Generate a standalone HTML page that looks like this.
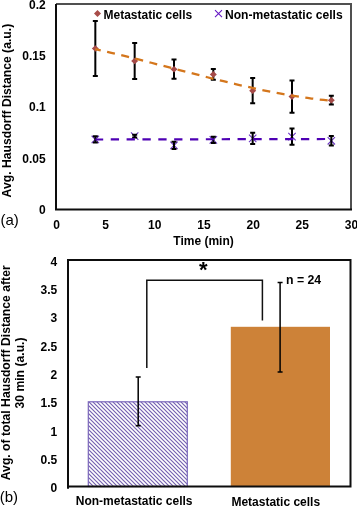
<!DOCTYPE html><html><head><meta charset="utf-8"><style>
html,body{margin:0;padding:0;background:#fff;width:357px;height:506px;overflow:hidden}
svg{display:block;will-change:transform}
text{font-family:"Liberation Sans",sans-serif;font-weight:bold;font-size:12px;fill:#000}
</style></head><body>
<svg width="357" height="506" viewBox="0 0 357 506">
<defs>
<pattern id="hatch" patternUnits="userSpaceOnUse" width="4" height="4" patternTransform="translate(88,401)">
<rect width="4" height="4" fill="#fff"/>
<path d="M-1,-1 L5,5 M-1,3 L1,5 M3,-1 L5,1" stroke="#7560b0" stroke-width="1.15"/>
</pattern>
</defs>

<path d="M56,4 H351 V209.4" fill="none" stroke="#505050" stroke-width="2"/>
<path d="M56,4 V209.4 H352" fill="none" stroke="#0d0d0d" stroke-width="2"/>
<text x="45.7" y="8.9" text-anchor="end">0.2</text>
<text x="45.7" y="60.1" text-anchor="end">0.15</text>
<text x="45.7" y="111.4" text-anchor="end">0.1</text>
<text x="45.7" y="162.7" text-anchor="end">0.05</text>
<text x="45.7" y="213.9" text-anchor="end">0</text>
<text x="56.5" y="229.3" text-anchor="middle">0</text>
<text x="105.7" y="229.3" text-anchor="middle">5</text>
<text x="154.8" y="229.3" text-anchor="middle">10</text>
<text x="204.0" y="229.3" text-anchor="middle">15</text>
<text x="253.2" y="229.3" text-anchor="middle">20</text>
<text x="302.3" y="229.3" text-anchor="middle">25</text>
<text x="351.5" y="229.3" text-anchor="middle">30</text>
<text x="203.5" y="244.5" text-anchor="middle">Time (min)</text>
<text x="0.5" y="224.5" style="font-weight:normal;font-size:15px">(a)</text>
<text transform="translate(10.9,110.6) rotate(-90)" text-anchor="middle" style="font-size:12.2px">Avg. Hausdorff Distance (a.u.)</text>
<path d="M97.5,10 L101,13.5 L97.5,17 L94,13.5 Z" fill="#a84c48"/>
<text x="103.5" y="18.5">Metastatic cells</text>
<path d="M215,10.2 L222,17.2 M222,10.2 L215,17.2" stroke="#6418c4" stroke-width="1.1"/>
<text x="225" y="18.5" style="font-size:12.1px">Non-metastatic cells</text>
<path d="M91.63,135.75 L99.03,143.15 M99.03,135.75 L91.63,143.15" stroke="#6c38c4" stroke-width="1.1"/>
<path d="M130.97,132.40 L138.37,139.80 M138.37,132.40 L130.97,139.80" stroke="#6c38c4" stroke-width="1.1"/>
<path d="M170.30,141.65 L177.70,149.05 M177.70,141.65 L170.30,149.05" stroke="#6c38c4" stroke-width="1.1"/>
<path d="M209.63,136.20 L217.03,143.60 M217.03,136.20 L209.63,143.60" stroke="#6c38c4" stroke-width="1.1"/>
<path d="M248.97,134.65 L256.37,142.05 M256.37,134.65 L248.97,142.05" stroke="#6c38c4" stroke-width="1.1"/>
<path d="M288.30,132.90 L295.70,140.30 M295.70,132.90 L288.30,140.30" stroke="#6c38c4" stroke-width="1.1"/>
<path d="M327.63,137.10 L335.03,144.50 M335.03,137.10 L327.63,144.50" stroke="#6c38c4" stroke-width="1.1"/>
<path d="M95.33,136.30 V142.60 M92.83,136.30 H97.83 M92.83,142.60 H97.83" stroke="#000" stroke-width="2" fill="none"/>
<path d="M134.67,134.70 V137.50 M132.17,134.70 H137.17 M132.17,137.50 H137.17" stroke="#000" stroke-width="2" fill="none"/>
<path d="M174.00,141.80 V148.90 M171.50,141.80 H176.50 M171.50,148.90 H176.50" stroke="#000" stroke-width="2" fill="none"/>
<path d="M213.33,136.80 V143.00 M210.83,136.80 H215.83 M210.83,143.00 H215.83" stroke="#000" stroke-width="2" fill="none"/>
<path d="M252.67,132.70 V144.00 M250.17,132.70 H255.17 M250.17,144.00 H255.17" stroke="#000" stroke-width="2" fill="none"/>
<path d="M292.00,128.40 V144.80 M289.50,128.40 H294.50 M289.50,144.80 H294.50" stroke="#000" stroke-width="2" fill="none"/>
<path d="M331.33,136.00 V145.60 M328.83,136.00 H333.83 M328.83,145.60 H333.83" stroke="#000" stroke-width="2" fill="none"/>
<path d="M95.33,20.90 V76.00 M92.83,20.90 H97.83 M92.83,76.00 H97.83" stroke="#000" stroke-width="2" fill="none"/>
<path d="M134.67,43.00 V78.90 M132.17,43.00 H137.17 M132.17,78.90 H137.17" stroke="#000" stroke-width="2" fill="none"/>
<path d="M174.00,59.60 V78.80 M171.50,59.60 H176.50 M171.50,78.80 H176.50" stroke="#000" stroke-width="2" fill="none"/>
<path d="M213.33,69.00 V79.80 M210.83,69.00 H215.83 M210.83,79.80 H215.83" stroke="#000" stroke-width="2" fill="none"/>
<path d="M252.67,78.00 V103.30 M250.17,78.00 H255.17 M250.17,103.30 H255.17" stroke="#000" stroke-width="2" fill="none"/>
<path d="M292.00,80.40 V112.80 M289.50,80.40 H294.50 M289.50,112.80 H294.50" stroke="#000" stroke-width="2" fill="none"/>
<path d="M331.33,95.80 V104.60 M328.83,95.80 H333.83 M328.83,104.60 H333.83" stroke="#000" stroke-width="2" fill="none"/>
<path d="M95.33,45.15 L98.83,48.45 L95.33,51.75 L91.83,48.45 Z" fill="#a54a48"/>
<path d="M134.67,57.65 L138.17,60.95 L134.67,64.25 L131.17,60.95 Z" fill="#a54a48"/>
<path d="M174.00,65.90 L177.50,69.20 L174.00,72.50 L170.50,69.20 Z" fill="#a54a48"/>
<path d="M213.33,71.10 L216.83,74.40 L213.33,77.70 L209.83,74.40 Z" fill="#a54a48"/>
<path d="M252.67,87.35 L256.17,90.65 L252.67,93.95 L249.17,90.65 Z" fill="#a54a48"/>
<path d="M292.00,93.30 L295.50,96.60 L292.00,99.90 L288.50,96.60 Z" fill="#a54a48"/>
<path d="M331.33,96.90 L334.83,100.20 L331.33,103.50 L327.83,100.20 Z" fill="#a54a48"/>
<path d="M95.30,49.14 L99.31,50.04 L103.31,50.95 L107.32,51.87 L111.32,52.81 L115.33,53.76 L119.33,54.72 L123.34,55.70 L127.34,56.68 L131.35,57.68 L135.35,58.68 L139.36,59.69 L143.36,60.71 L147.37,61.73 L151.37,62.76 L155.38,63.80 L159.38,64.83 L163.39,65.87 L167.39,66.92 L171.40,67.96 L175.40,69.00 L179.41,70.04 L183.41,71.08 L187.42,72.12 L191.42,73.16 L195.43,74.19 L199.43,75.21 L203.44,76.24 L207.44,77.25 L211.45,78.26 L215.45,79.25 L219.46,80.24 L223.46,81.22 L227.47,82.19 L231.47,83.15 L235.48,84.09 L239.48,85.02 L243.49,85.94 L247.49,86.84 L251.50,87.72 L255.50,88.59 L259.51,89.44 L263.51,90.28 L267.52,91.09 L271.52,91.88 L275.53,92.65 L279.53,93.40 L283.54,94.13 L287.54,94.84 L291.55,95.52 L295.55,96.17 L299.56,96.80 L303.56,97.40 L307.57,97.97 L311.57,98.52 L315.58,99.03 L319.58,99.52 L323.59,99.97 L327.59,100.40 L331.60,100.78" fill="none" stroke="#d4761c" stroke-width="2.3" stroke-dasharray="8 6.54" stroke-dashoffset="2.45"/>
<path d="M95.3,139.5 L331.3,139.0" fill="none" stroke="#4e00b4" stroke-width="2.2" stroke-dasharray="8.3 7.55" stroke-dashoffset="0.4"/>
<rect x="88.3" y="401.8" width="99" height="84.69999999999999" fill="url(#hatch)" stroke="#7a66bb" stroke-width="1.2"/>
<rect x="230.8" y="326.8" width="99.2" height="159.7" fill="#cd8238"/>
<rect x="68" y="260" width="282.5" height="226.5" fill="none" stroke="#0d0d0d" stroke-width="2"/>
<path d="M68,486 V488.7" stroke="#0d0d0d" stroke-width="2"/>
<text x="57.2" y="492.1" text-anchor="end">0</text>
<text x="57.2" y="463.8" text-anchor="end">0.5</text>
<text x="57.2" y="435.5" text-anchor="end">1</text>
<text x="57.2" y="407.2" text-anchor="end">1.5</text>
<text x="57.2" y="378.9" text-anchor="end">2</text>
<text x="57.2" y="350.5" text-anchor="end">2.5</text>
<text x="57.2" y="322.2" text-anchor="end">3</text>
<text x="57.2" y="293.9" text-anchor="end">3.5</text>
<text x="57.2" y="265.6" text-anchor="end">4</text>
<path d="M138.2,377.1 V425.7 M135.7,377.1 H140.7 M135.7,425.7 H140.7" stroke="#000" stroke-width="1.5" fill="none"/>
<path d="M280.1,282.6 V371.9 M277.6,282.6 H282.6 M277.6,371.9 H282.6" stroke="#000" stroke-width="1.5" fill="none"/>
<path d="M146.8,368 V280.2 H262.4 V320.6" fill="none" stroke="#111" stroke-width="1.5"/>
<text x="203.3" y="277.4" text-anchor="middle" style="font-size:22px">*</text>
<text x="286" y="284.1" style="font-size:12.3px">n = 24</text>
<text transform="translate(10.3,372.8) rotate(-90)" text-anchor="middle" style="font-size:12.2px">Avg. of total Hausdorff Distance after</text>
<text transform="translate(24.2,373) rotate(-90)" text-anchor="middle" style="font-size:12.2px">30 min (a.u.)</text>
<text x="-0.3" y="502.1" style="font-weight:normal;font-size:15px">(b)</text>
<text x="75.8" y="505.2">Non-metastatic cells</text>
<text x="231.4" y="505.6">Metastatic cells</text>
</svg></body></html>
